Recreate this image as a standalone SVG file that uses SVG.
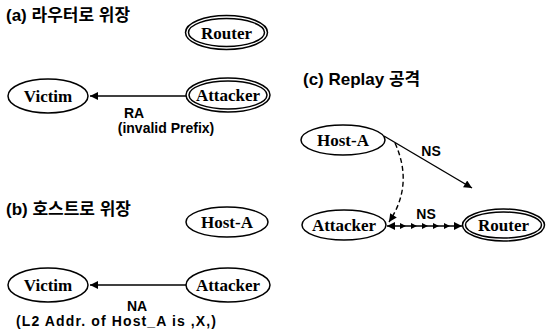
<svg xmlns="http://www.w3.org/2000/svg" width="546" height="329" viewBox="0 0 546 329">
<defs>
<style>
.bg{fill:#ffffff}
.node{fill:#ffffff;stroke:#000;stroke-width:1.5}
.inner{fill:none;stroke:#000;stroke-width:1.5}
.nlabel{font-family:"Liberation Serif","Times New Roman",serif;font-weight:bold;font-size:17px;fill:#000;text-anchor:middle}
.title{font-family:"Liberation Sans","Noto Sans CJK KR",sans-serif;font-weight:bold;font-size:17px;fill:#000}
.elabel{font-family:"Liberation Sans","Noto Sans CJK KR",sans-serif;font-weight:bold;font-size:14px;fill:#000;text-anchor:middle}
.edge{fill:none;stroke:#000;stroke-width:1.4}
.dash{fill:none;stroke:#000;stroke-width:1.4;stroke-dasharray:5 3}
</style>
<marker id="arr" viewBox="0 0 10 10" refX="10" refY="5" markerWidth="9" markerHeight="8" markerUnits="userSpaceOnUse" orient="auto-start-reverse">
<path d="M0,0 L10,5 L0,10 Z" fill="#000"/>
</marker>
<marker id="mid" viewBox="0 0 10 10" refX="10" refY="5" markerWidth="6" markerHeight="6" markerUnits="userSpaceOnUse" orient="auto">
<path d="M0,0 L10,5 L0,10 Z" fill="#000"/>
</marker>
</defs>
<rect class="bg" x="0" y="0" width="546" height="329"/>

<text class="title" x="6" y="21">(a) 라우터로 위장</text>
<text class="title" x="6" y="215">(b) 호스트로 위장</text>
<text class="title" x="303" y="85">(c) Replay 공격</text>

<g id="connectors">
<line class="edge" x1="186" y1="96" x2="90" y2="96" marker-end="url(#arr)"/>
<line class="edge" x1="186" y1="285" x2="90" y2="285" marker-end="url(#arr)"/>
<line class="edge" x1="384" y1="136" x2="472" y2="188" marker-end="url(#arr)"/>
<path class="dash" d="M395,143 Q414,185 389,222" marker-end="url(#arr)"/>
<polyline class="edge" points="387,226 406,226 417,226 428,226 439,226 450,226 462,226" marker-start="url(#arr)" marker-mid="url(#mid)" marker-end="url(#arr)"/>
<text class="elabel" x="134" y="118">RA</text>
<text class="elabel" x="166" y="133">(invalid Prefix)</text>
<text class="elabel" x="137" y="311">NA</text>
<text class="elabel" x="116" y="326" textLength="200" lengthAdjust="spacing">(L2 Addr. of Host_A is ,X,)</text>
<text class="elabel" x="431" y="156">NS</text>
<text class="elabel" x="426" y="219">NS</text>
</g>

<g id="router-a">
<ellipse class="node" cx="226.5" cy="32.5" rx="41" ry="17"/>
<ellipse class="inner" cx="226.5" cy="32.5" rx="38" ry="14"/>
<text class="nlabel" x="226.5" y="38.5">Router</text>
</g>
<g id="victim-a">
<ellipse class="node" cx="48" cy="96" rx="40" ry="17"/>
<text class="nlabel" x="48" y="102">Victim</text>
</g>
<g id="attacker-a">
<ellipse class="node" cx="228" cy="95" rx="42" ry="17"/>
<ellipse class="inner" cx="228" cy="95" rx="39" ry="14"/>
<text class="nlabel" x="228" y="101">Attacker</text>
</g>

<g id="hosta-b">
<ellipse class="node" cx="227" cy="222" rx="41" ry="15"/>
<text class="nlabel" x="227" y="228">Host-A</text>
</g>
<g id="victim-b">
<ellipse class="node" cx="48" cy="285" rx="40" ry="17"/>
<text class="nlabel" x="48" y="291">Victim</text>
</g>
<g id="attacker-b">
<ellipse class="node" cx="228" cy="285" rx="42" ry="17"/>
<text class="nlabel" x="228" y="291">Attacker</text>
</g>

<g id="hosta-c">
<ellipse class="node" cx="343" cy="140" rx="42" ry="15"/>
<text class="nlabel" x="343" y="146">Host-A</text>
</g>
<g id="attacker-c">
<ellipse class="node" cx="344" cy="225" rx="42" ry="15"/>
<text class="nlabel" x="344" y="231">Attacker</text>
</g>
<g id="router-c">
<ellipse class="node" cx="503.5" cy="225" rx="41" ry="16"/>
<ellipse class="inner" cx="503.5" cy="225" rx="38" ry="13"/>
<text class="nlabel" x="503.5" y="231">Router</text>
</g>
</svg>
